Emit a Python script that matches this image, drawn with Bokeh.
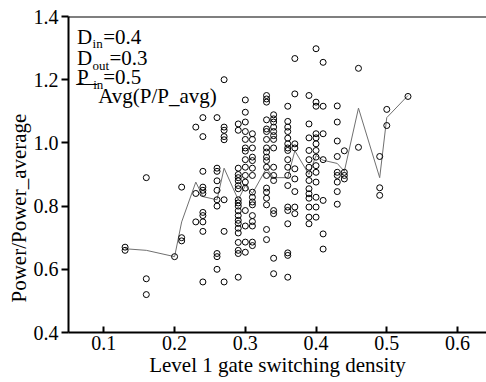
from bokeh.plotting import figure
from bokeh.models import FixedTicker, Span, Label, ColumnDataSource, PrintfTickFormatter, Title
from bokeh.embed import file_html
from bokeh.resources import INLINE

# ---- data ----
col_x = [0.13, 0.16, 0.20, 0.21, 0.23, 0.24, 0.26, 0.27, 0.29, 0.30, 0.31, 0.33,
         0.34, 0.36, 0.37, 0.39, 0.40, 0.41, 0.43, 0.44, 0.46, 0.49, 0.50, 0.53]

y_013 = [0.67, 0.66]
y_016 = [0.89, 0.57, 0.52]
y_020 = [0.64]
y_021 = [0.86, 0.70, 0.69]
y_023 = [1.05, 0.84, 0.75]
y_024 = [1.08, 1.02, 0.91, 0.86, 0.85, 0.84, 0.78, 0.77, 0.75, 0.72, 0.56]
y_026 = [1.08, 0.92, 0.91, 0.88, 0.85, 0.82, 0.80, 0.65, 0.64, 0.60]
y_027 = [1.20, 1.05, 1.04, 1.02, 1.01, 0.82, 0.72, 0.56]
y_029 = [1.06, 1.04, 0.92, 0.90, 0.89, 0.88, 0.865, 0.855, 0.82, 0.81, 0.80,
         0.785, 0.77, 0.755, 0.745, 0.73, 0.715, 0.685, 0.66, 0.65, 0.575]
y_030 = [1.136, 1.097, 1.066, 1.036, 1.011, 0.984, 0.974, 0.947, 0.923, 0.897,
         0.876, 0.857, 0.786, 0.737, 0.686, 0.654]
y_031 = [1.029, 1.011, 0.984, 0.955, 0.944, 0.920, 0.897, 0.844, 0.828, 0.813,
         0.804, 0.770, 0.751, 0.737, 0.686, 0.675]
y_033 = [1.150, 1.139, 1.129, 1.073, 1.044, 1.036, 1.011, 0.984, 0.971, 0.955,
         0.944, 0.923, 0.897, 0.857, 0.844, 0.825, 0.804, 0.726, 0.694]
y_034 = [1.089, 1.076, 1.066, 1.050, 1.036, 1.023, 1.011, 0.984, 0.923, 0.897,
         0.881, 0.786, 0.776, 0.635, 0.586]
y_036 = [1.116, 1.068, 1.050, 1.036, 1.015, 0.997, 0.984, 0.976, 0.947, 0.923,
         0.897, 0.865, 0.797, 0.786, 0.744, 0.652, 0.644, 0.575]
y_037 = [1.267, 1.155, 0.997, 0.984, 0.918, 0.886, 0.846, 0.797, 0.776]
y_039 = [1.150, 1.060, 1.016, 0.976, 0.947, 0.923, 0.902, 0.881, 0.855, 0.839,
         0.825, 0.797, 0.765, 0.744]
y_040 = [1.298, 1.129, 1.116, 1.029, 1.016, 0.997, 0.976, 0.955, 0.928, 0.907,
         0.876, 0.828, 0.797, 0.765]
y_041 = [1.255, 1.116, 1.029, 0.947, 0.818, 0.712, 0.664]
y_043 = [1.117, 1.066, 1.006, 0.957, 0.907, 0.897, 0.876, 0.846, 0.806]
y_044 = [0.975, 0.907, 0.897, 0.886]
y_046 = [1.236, 0.986]
y_049 = [0.957, 0.858, 0.834]
y_050 = [1.106, 1.055]
y_053 = [1.147]

col_y = [y_013, y_016, y_020, y_021, y_023, y_024, y_026, y_027, y_029, y_030,
         y_031, y_033, y_034, y_036, y_037, y_039, y_040, y_041, y_043, y_044,
         y_046, y_049, y_050, y_053]

avg_y = [0.665, 0.66, 0.64, 0.75, 0.876, 0.83, 0.82, 0.92, 0.82, 0.865, 0.84,
         0.92, 0.89, 0.89, 0.975, 0.90, 0.96, 0.945, 0.935, 0.91, 1.11, 0.89,
         1.08, 1.15]

x_ticks = [0.1, 0.2, 0.3, 0.4, 0.5, 0.6]
y_ticks = [0.4, 0.6, 0.8, 1.0, 1.2, 1.4]

x_label = "Level 1 gate switching density"
y_label = "Power/Power_average"

# ---- build point table ----
pts_x, pts_y = [], []
for cx, ys in zip(col_x, col_y):
    for v in ys:
        pts_x.append(cx)
        pts_y.append(v)
src = ColumnDataSource(dict(x=pts_x, y=pts_y))
avg_src = ColumnDataSource(dict(x=col_x, y=avg_y))

FONT = "Liberation Serif"

p = figure(width=486, height=382, x_range=(0.05, 0.641), y_range=(0.4, 1.4),
           output_backend="svg", toolbar_location=None,
           min_border_left=68, min_border_right=0, min_border_top=16,
           min_border_bottom=50)
p.outline_line_color = None
p.xgrid.visible = False
p.ygrid.visible = False
p.background_fill_color = "white"
p.border_fill_color = "white"

p.line("x", "y", source=avg_src, line_color="#707070", line_width=1)
p.scatter("x", "y", source=src, marker="circle", size=6, fill_color=None,
          line_color="black", line_width=1)

for ax in (p.xaxis[0], p.yaxis[0]):
    ax.axis_line_width = 2
    ax.axis_line_color = "black"
    ax.major_tick_line_width = 2
    ax.major_tick_line_color = "black"
    ax.minor_tick_line_color = None
    ax.major_label_text_font = FONT
    ax.major_label_text_font_size = "20px"
    ax.major_label_text_color = "black"
    ax.axis_label_text_font = FONT
    ax.axis_label_text_font_size = "21px"
    ax.axis_label_text_font_style = "normal"
    ax.axis_label_text_color = "black"

p.xaxis.ticker = FixedTicker(ticks=x_ticks)
p.yaxis.ticker = FixedTicker(ticks=y_ticks)
p.xaxis.formatter = PrintfTickFormatter(format="%.1f")
p.yaxis.formatter = PrintfTickFormatter(format="%.1f")
p.xaxis.major_tick_in = 6
p.xaxis.major_tick_out = 0
p.xaxis.major_label_standoff = 3
p.xaxis.axis_label_standoff = 0
p.yaxis.major_tick_in = 0
p.yaxis.major_tick_out = 7
p.yaxis.major_label_standoff = 3
p.xaxis.axis_label = x_label

p.add_layout(Span(location=1.4, dimension="width", line_color="black", line_width=2))

# y axis title, shifted lower than frame centre as in the reference
p.add_layout(Title(text=y_label, align="left", offset=30, standoff=0,
                   text_font=FONT, text_font_size="21px", text_font_style="normal",
                   text_color="black"), "left")

def lab(x, y, t, size):
    p.add_layout(Label(x=x, y=y, text=t, text_font=FONT, text_font_size=size,
                       text_color="black", text_baseline="alphabetic"))

lab(0.062, 1.334, "D", "21px")
lab(0.084, 1.313, "in", "13px")
lab(0.099, 1.334, "=0.4", "21px")
lab(0.062, 1.270, "D", "21px")
lab(0.084, 1.246, "out", "13px")
lab(0.108, 1.270, "=0.3", "21px")
lab(0.062, 1.210, "P", "21px")
lab(0.085, 1.184, "in", "13px")
lab(0.099, 1.210, "=0.5", "21px")
lab(0.061, 1.188, "\u2014", "21px")
lab(0.092, 1.150, "Avg(P/P_avg)", "21px")

open("out.html", "w").write(file_html(p, INLINE))
